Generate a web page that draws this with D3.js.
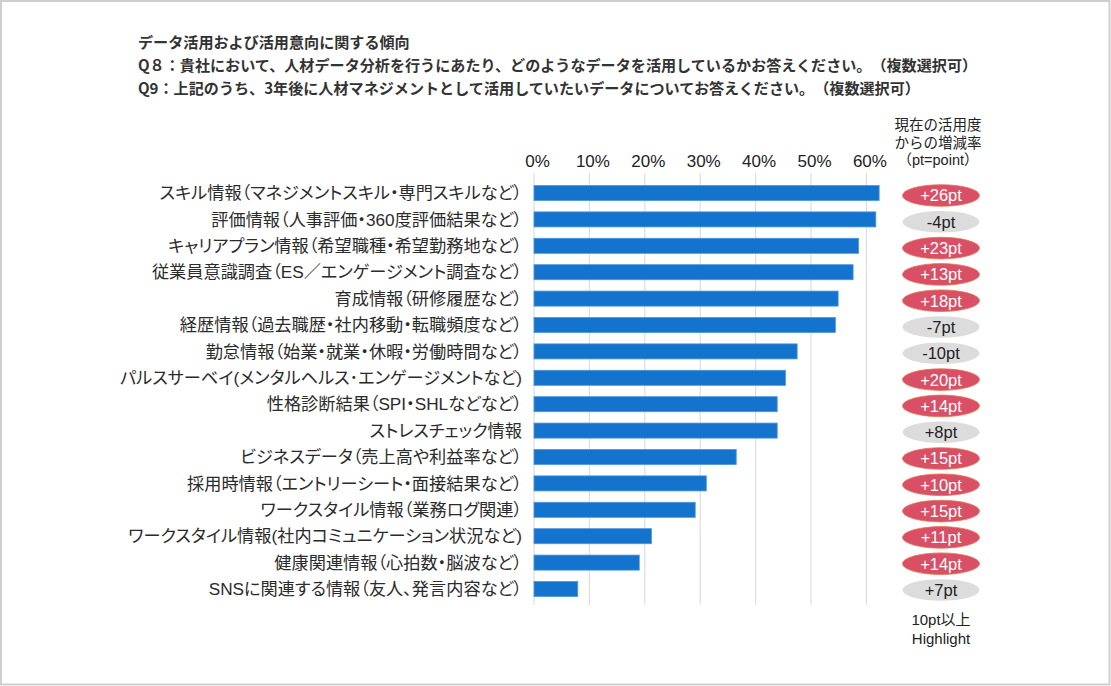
<!DOCTYPE html>
<html><head><meta charset="utf-8">
<script src="https://cdn.jsdelivr.net/npm/d3@7"></script>
<style>
html,body{margin:0;padding:0;background:#fff;}
svg{display:block;}
text{text-spacing-trim:space-all;}
.lbl{font-feature-settings:"palt" 1;}
</style></head>
<body>
<script>
const titleLines = [
  "データ活用および活用意向に関する傾向",
  "Q８：貴社において、人材データ分析を行うにあたり、どのようなデータを活用しているかお答えください。（複数選択可）",
  "Q9：上記のうち、3年後に人材マネジメントとして活用していたいデータについてお答えください。（複数選択可）"
];
const categories = [
  "スキル情報（マネジメントスキル・専門スキルなど）",
  "評価情報（人事評価・360度評価結果など）",
  "キャリアプラン情報（希望職種・希望勤務地など）",
  "従業員意識調査（ES／エンゲージメント調査など）",
  "育成情報（研修履歴など）",
  "経歴情報（過去職歴・社内移動・転職頻度など）",
  "勤怠情報（始業・就業・休暇・労働時間など）",
  "パルスサーベイ(メンタルヘルス･エンゲージメントなど)",
  "性格診断結果（SPI・SHLなどなど）",
  "ストレスチェック情報",
  "ビジネスデータ（売上高や利益率など）",
  "採用時情報（エントリーシート・面接結果など）",
  "ワークスタイル情報（業務ログ関連）",
  "ワークスタイル情報(社内コミュニケーション状況など)",
  "健康関連情報（心拍数・脳波など）",
  "SNSに関連する情報（友人、発言内容など）"
];
const values = [62.3, 61.7, 58.6, 57.6, 54.9, 54.4, 47.5, 45.4, 43.9, 43.9, 36.5, 31.1, 29.1, 21.2, 19.0, 7.9];
const changes = [26, -4, 23, 13, 18, -7, -10, 20, 14, 8, 15, 10, 15, 11, 14, 7];
const tickValues = [0, 10, 20, 30, 40, 50, 60];
const sideHeader = ["現在の活用度", "からの増減率", "（pt=point）"];
const sideFooter = ["10pt以上", "Highlight"];
const highlightThreshold = 10;

const W = 1111, H = 686;
const latin = '"Liberation Sans", Arial, "Noto Sans CJK JP", sans-serif';
const cjk = '"Noto Sans CJK JP", sans-serif';

const svg = d3.select("body").append("svg").attr("width", W).attr("height", H);
svg.append("rect").attr("x", 1).attr("y", 1).attr("width", 1108.5).attr("height", 683.5)
  .attr("fill", "#fff").attr("stroke", "#cfcfcf").attr("stroke-width", 2);

// title
svg.append("g").selectAll("text").data(titleLines).join("text")
  .attr("x", 138).attr("y", (d, i) => 43 + i * 23)
  .attr("dy", "0.35em")
  .attr("font-family", cjk).attr("font-weight", "bold").attr("font-size", 15.1)
  .attr("fill", "#333").text(d => d);

const x = d3.scaleLinear().domain([0, 60]).range([534, 866.4]);
const y = d3.scaleBand().domain(categories).range([179.8, 602.2]).paddingInner(0.43).paddingOuter(0.215);
const yBadge = d3.scalePoint().domain(categories).range([195.5, 590]);

// grid
svg.append("g").selectAll("line").data(tickValues).join("line")
  .attr("x1", d => x(d)).attr("x2", d => x(d))
  .attr("y1", 173).attr("y2", 605)
  .attr("stroke", "#dedede").attr("stroke-width", 1.2);

// top axis labels
const axis = d3.axisTop(x).tickValues(tickValues).tickFormat(d => d + "%").tickSize(0).tickPadding(0);
const ag = svg.append("g").attr("transform", "translate(3,167)").call(axis);
ag.select(".domain").remove();
ag.selectAll("text").attr("font-family", latin).attr("font-size", 17).attr("fill", "#222");

// bars
svg.append("g").selectAll("rect").data(values).join("rect")
  .attr("x", x(0)).attr("y", (d, i) => y(categories[i]))
  .attr("width", d => x(d) - x(0)).attr("height", y.bandwidth())
  .attr("fill", "#1473cc").attr("stroke", "#4e97dc").attr("stroke-width", 0.8);

// category labels
svg.append("g").selectAll("text").data(categories).join("text")
  .attr("class", "lbl")
  .attr("x", 522).attr("y", d => y(d) + y.bandwidth() / 2)
  .attr("dy", "0.36em").attr("text-anchor", "end")
  .attr("font-family", latin).attr("font-size", 17.2).attr("fill", "#2b2b2b")
  .text(d => d);

// badges
const bg = svg.append("g").selectAll("g").data(changes).join("g")
  .attr("transform", (d, i) => `translate(941,${yBadge(categories[i])})`);
bg.append("ellipse").attr("rx", 38.5).attr("ry", 10.8)
  .attr("fill", d => d >= highlightThreshold ? "#d94f65" : "#dcdcdc")
  .attr("stroke", d => d >= highlightThreshold ? "#e2734f" : "none").attr("stroke-width", 0.8);
bg.append("text").attr("text-anchor", "middle").attr("dy", "0.36em")
  .attr("font-family", latin).attr("font-size", 16.5)
  .attr("fill", d => d >= highlightThreshold ? "#fff" : "#222")
  .text(d => (d > 0 ? "+" : "") + d + "pt");

// side header/footer
svg.append("g").selectAll("text").data(sideHeader).join("text")
  .attr("x", 938).attr("y", (d, i) => 125 + i * 17.5).attr("dy", "0.36em")
  .attr("text-anchor", "middle").attr("font-family", latin).attr("font-size", 14.5)
  .attr("fill", "#222").text(d => d);
svg.append("g").selectAll("text").data(sideFooter).join("text")
  .attr("x", 941).attr("y", (d, i) => 620 + i * 19).attr("dy", "0.36em")
  .attr("text-anchor", "middle").attr("font-family", latin).attr("font-size", 15)
  .attr("fill", "#222").text(d => d);
</script>
</body></html>
